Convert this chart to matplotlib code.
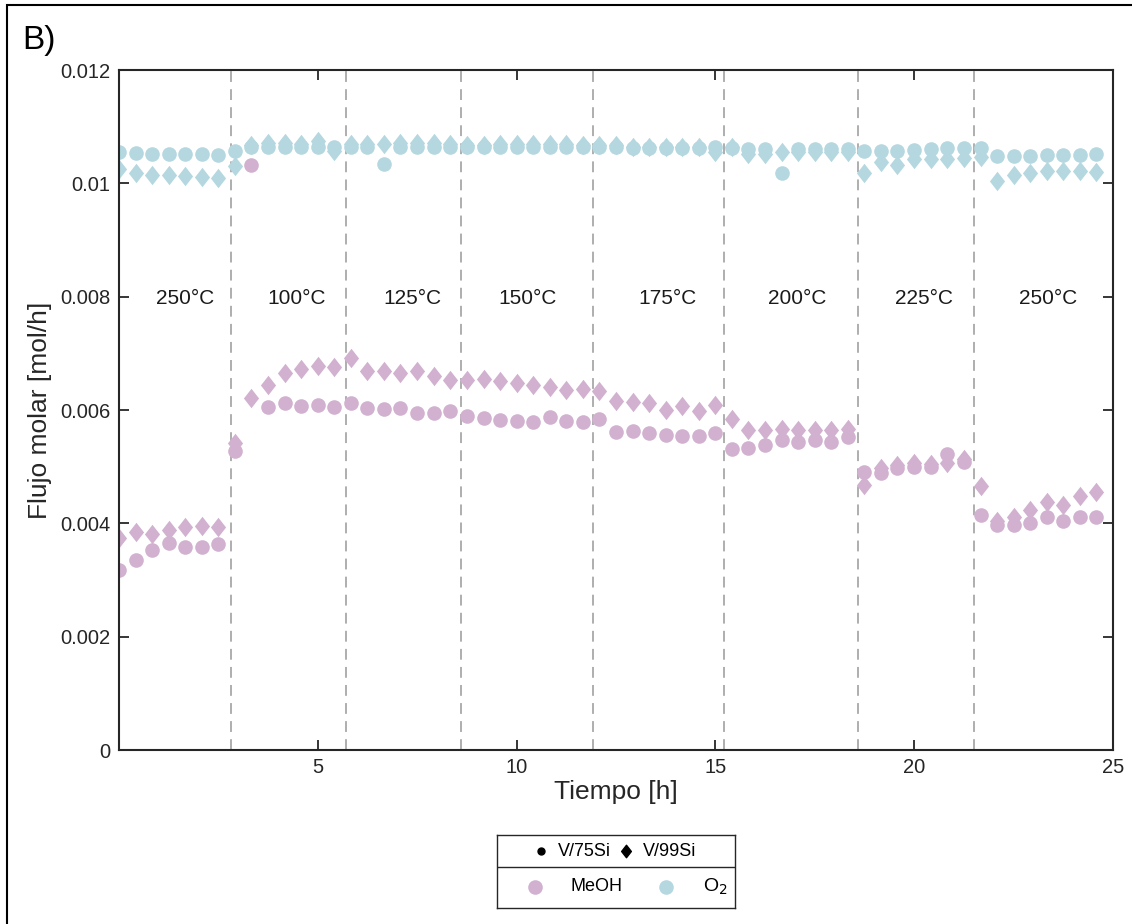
import matplotlib
matplotlib.use('Agg')
import matplotlib.pyplot as plt
from matplotlib.path import Path
from matplotlib.patches import Rectangle

plt.rcParams['font.family'] = ['Liberation Sans', 'DejaVu Sans']

# tiempo de muestreo [h]
tiempo = [0.00, 0.42, 0.83, 1.25, 1.67, 2.08, 2.50, 2.92, 3.33, 3.75,
          4.17, 4.58, 5.00, 5.42, 5.83, 6.25, 6.67, 7.08, 7.50, 7.92,
          8.33, 8.75, 9.17, 9.58, 10.00, 10.42, 10.83, 11.25, 11.67, 12.08,
          12.50, 12.92, 13.33, 13.75, 14.17, 14.58, 15.00, 15.42, 15.83, 16.25,
          16.67, 17.08, 17.50, 17.92, 18.33, 18.75, 19.17, 19.58, 20.00, 20.42,
          20.83, 21.25, 21.67, 22.08, 22.50, 22.92, 23.33, 23.75, 24.17, 24.58]

# MeOH - V/75Si (circulos)
meoh_75 = [0.00318, 0.00335, 0.00353, 0.00366, 0.00359, 0.00358, 0.00364, 0.00528, 0.01033, 0.00605,
           0.00613, 0.00607, 0.00609, 0.00605, 0.00612, 0.00603, 0.00602, 0.00604, 0.00594, 0.00594,
           0.00598, 0.00589, 0.00586, 0.00583, 0.00581, 0.00578, 0.00587, 0.00581, 0.00579, 0.00585,
           0.00562, 0.00563, 0.00559, 0.00556, 0.00554, 0.00554, 0.00559, 0.00532, 0.00533, 0.00538,
           0.00547, 0.00544, 0.00547, 0.00544, 0.00553, 0.00491, 0.00488, 0.00497, 0.00499, 0.00500,
           0.00523, 0.00509, 0.00415, 0.00397, 0.00397, 0.00401, 0.00411, 0.00405, 0.00411, 0.00411]

# MeOH - V/99Si (diamantes)
meoh_99 = [0.00375, 0.00385, 0.00382, 0.00388, 0.00394, 0.00395, 0.00393, 0.00541, 0.00621, 0.00644,
           0.00666, 0.00672, 0.00678, 0.00676, 0.00691, 0.00668, 0.00668, 0.00665, 0.00669, 0.00660,
           0.00653, 0.00653, 0.00654, 0.00652, 0.00648, 0.00644, 0.00640, 0.00635, 0.00637, 0.00634,
           0.00616, 0.00615, 0.00613, 0.00600, 0.00607, 0.00599, 0.00609, 0.00584, 0.00565, 0.00565,
           0.00566, 0.00565, 0.00565, 0.00565, 0.00566, 0.00468, 0.00497, 0.00503, 0.00506, 0.00504,
           0.00507, 0.00513, 0.00466, 0.00405, 0.00412, 0.00424, 0.00438, 0.00432, 0.00449, 0.00456]

# O2 - V/75Si (circulos)
o2_75 = [0.01055, 0.01053, 0.01052, 0.01052, 0.01052, 0.01052, 0.01050, 0.01057, 0.01065, 0.01065,
         0.01065, 0.01065, 0.01065, 0.01065, 0.01065, 0.01065, 0.01034, 0.01065, 0.01065, 0.01065,
         0.01065, 0.01065, 0.01065, 0.01065, 0.01065, 0.01065, 0.01065, 0.01065, 0.01065, 0.01065,
         0.01065, 0.01062, 0.01062, 0.01062, 0.01062, 0.01062, 0.01065, 0.01062, 0.01060, 0.01060,
         0.01018, 0.01060, 0.01060, 0.01060, 0.01060, 0.01058, 0.01058, 0.01058, 0.01059, 0.01060,
         0.01062, 0.01062, 0.01062, 0.01048, 0.01049, 0.01049, 0.01050, 0.01050, 0.01050, 0.01052]

# O2 - V/99Si (diamantes)
o2_99 = [0.01026, 0.01019, 0.01015, 0.01014, 0.01013, 0.01012, 0.01009, 0.01031, 0.01068, 0.01071,
         0.01071, 0.01070, 0.01074, 0.01057, 0.01069, 0.01069, 0.01069, 0.01071, 0.01071, 0.01071,
         0.01070, 0.01068, 0.01068, 0.01069, 0.01069, 0.01069, 0.01069, 0.01069, 0.01068, 0.01068,
         0.01067, 0.01064, 0.01064, 0.01064, 0.01064, 0.01064, 0.01055, 0.01065, 0.01051, 0.01051,
         0.01056, 0.01056, 0.01056, 0.01056, 0.01056, 0.01019, 0.01038, 0.01032, 0.01043, 0.01043,
         0.01043, 0.01044, 0.01046, 0.01004, 0.01015, 0.01019, 0.01022, 0.01021, 0.01022, 0.01020]

# cambios de temperatura [h]
cambios = [2.82, 5.71, 8.60, 11.92, 15.21, 18.58, 21.50]
temperaturas = ['250°C', '100°C', '125°C', '150°C', '175°C', '200°C', '225°C', '250°C']
pos_temp = [1.66, 4.48, 7.37, 10.28, 13.80, 17.05, 20.24, 23.38]

c_meoh = '#D1B0D0'
c_o2 = '#B4D7E0'

# diamante estilo MATLAB (mas alto que ancho)
diamante = Path([(0, -1), (0.78, 0), (0, 1), (-0.78, 0), (0, -1)],
                [Path.MOVETO, Path.LINETO, Path.LINETO, Path.LINETO, Path.CLOSEPOLY])

fig = plt.figure(figsize=(11.32, 9.24), dpi=100)
ax = fig.add_axes([0.1051, 0.1883, 0.8781, 0.7359])

ms_c = 10.5
ms_d = 14
ax.plot(tiempo, meoh_99, linestyle='none', marker=diamante, ms=ms_d, color=c_meoh, mec='none')
ax.plot(tiempo, meoh_75, linestyle='none', marker='o', ms=ms_c, color=c_meoh, mec='none')
ax.plot(tiempo, o2_99, linestyle='none', marker=diamante, ms=ms_d, color=c_o2, mec='none')
ax.plot(tiempo, o2_75, linestyle='none', marker='o', ms=ms_c, color=c_o2, mec='none')

for xc in cambios:
    ax.axvline(xc, color='#A8A8A8', linestyle=(0, (6, 4)), linewidth=1.3, zorder=0)

for xt, lab in zip(pos_temp, temperaturas):
    ax.text(xt, 0.00797, lab, ha='center', va='center', fontsize=15, color='#1a1a1a')

ax.set_xlim(0, 25)
ax.set_ylim(0, 0.012)
ax.set_xticks([5, 10, 15, 20, 25])
ax.set_yticks([0, 0.002, 0.004, 0.006, 0.008, 0.01, 0.012])
ax.set_yticklabels(['0', '0.002', '0.004', '0.006', '0.008', '0.01', '0.012'])
ax.tick_params(direction='in', length=7, width=1.3, labelsize=14.5, top=True, right=True,
               color='#262626', labelcolor='#262626', pad=6)
for s in ax.spines.values():
    s.set_linewidth(1.5)
    s.set_color('#262626')
ax.set_xlabel('Tiempo [h]', fontsize=19, color='#262626', labelpad=2)
ax.set_ylabel('Flujo molar [mol/h]', fontsize=19, color='#262626', labelpad=6)

# leyenda al estilo MATLAB
lg = fig.add_axes([497 / 1132, 1 - 908 / 924, 238 / 1132, 73 / 924])
lg.set_xlim(0, 1)
lg.set_ylim(0, 1)
lg.set_xticks([])
lg.set_yticks([])
for s in lg.spines.values():
    s.set_linewidth(1.0)
    s.set_color('#262626')
lg.axhline(0.56, color='#262626', linewidth=1.0)
lg.plot([0.185], [0.78], 'o', color='black', ms=5)
lg.text(0.256, 0.78, 'V/75Si', va='center', ha='left', fontsize=13)
lg.plot([0.542], [0.78], marker=diamante, color='black', ms=9, linestyle='none')
lg.text(0.613, 0.78, 'V/99Si', va='center', ha='left', fontsize=13)
lg.plot([0.16], [0.29], 'o', color=c_meoh, mec='none', ms=ms_c)
lg.text(0.31, 0.29, 'MeOH', va='center', ha='left', fontsize=13)
lg.plot([0.71], [0.29], 'o', color=c_o2, mec='none', ms=ms_c)
lg.text(0.866, 0.29, 'O$_2$', va='center', ha='left', fontsize=14)

fig.text(22 / 1132, 1 - 40 / 924, 'B)', fontsize=24, va='center', ha='left')
fig.patches.append(Rectangle((7 / 1132, -0.05), 1.2, 1 - 5 / 924 + 0.05, transform=fig.transFigure,
                             fill=False, edgecolor='black', linewidth=1.5))

fig.savefig('out.png', dpi=100)
